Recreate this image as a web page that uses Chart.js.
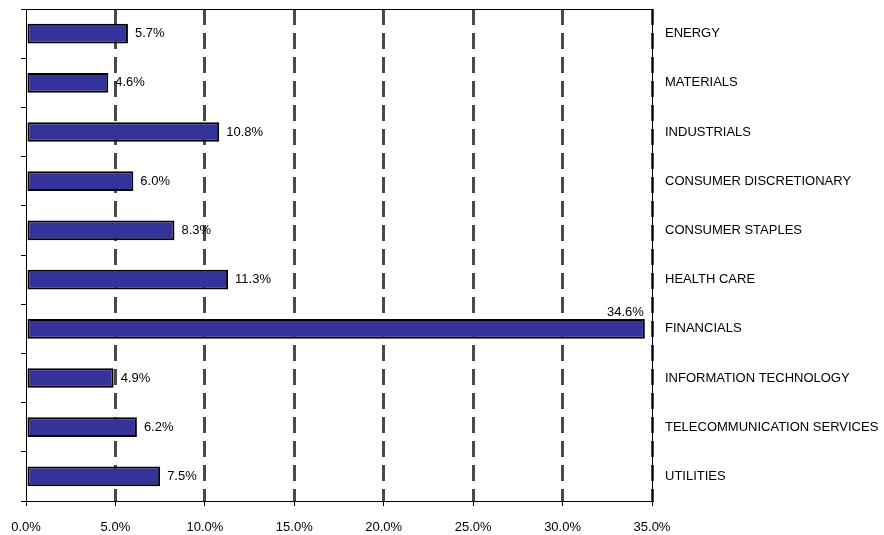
<!DOCTYPE html>
<html>
<head>
<meta charset="utf-8">
<script src="https://cdn.jsdelivr.net/npm/chart.js@4/dist/chart.umd.min.js"></script>
<style>
  body { margin: 0; background: #fff; }
  #wrap { width: 884px; height: 535px; }
</style>
</head>
<body>
<div id="wrap"><canvas id="sectorChart" width="884" height="535"></canvas></div>
<script>
// sector weights, top to bottom as in the picture
const sectors = ['ENERGY', 'MATERIALS', 'INDUSTRIALS', 'CONSUMER DISCRETIONARY', 'CONSUMER STAPLES',
  'HEALTH CARE', 'FINANCIALS', 'INFORMATION TECHNOLOGY', 'TELECOMMUNICATION SERVICES', 'UTILITIES'];
const weights = [5.7, 4.6, 10.8, 6.0, 8.3, 11.3, 34.6, 4.9, 6.2, 7.5];
const axisMin = 0;
const axisMax = 35;
const axisStep = 5;

const FONT = 'Liberation Sans, Arial, sans-serif';

// no extra padding from label overhang
function noPad(scale) {
  scale.paddingTop = 0;
  scale.paddingBottom = 0;
  scale.paddingLeft = 0;
  scale.paddingRight = 0;
}

// value labels at the end of each bar (placed above when there is no room)
const valueLabels = {
  id: 'valueLabels',
  afterDatasetsDraw(chart) {
    const ctx = chart.ctx;
    const area = chart.chartArea;
    const meta = chart.getDatasetMeta(0);
    ctx.save();
    ctx.font = '13px ' + FONT;
    ctx.fillStyle = '#000';
    meta.data.forEach((bar, i) => {
      const text = weights[i].toFixed(1) + '%';
      const w = ctx.measureText(text).width;
      if (bar.x + 8 + w > area.right) {
        ctx.textAlign = 'right';
        ctx.textBaseline = 'middle';
        ctx.fillText(text, bar.x - 1, bar.y - bar.height / 2 - 7);
      } else {
        ctx.textAlign = 'left';
        ctx.textBaseline = 'middle';
        ctx.fillText(text, bar.x + 7, bar.y);
      }
    });
    ctx.restore();
  }
};

// top edge of the plot area
const topBorder = {
  id: 'topBorder',
  afterDraw(chart) {
    const ctx = chart.ctx;
    const a = chart.chartArea;
    ctx.save();
    ctx.strokeStyle = '#000';
    ctx.lineWidth = 1;
    ctx.beginPath();
    ctx.moveTo(a.left, a.top + 0.5);
    ctx.lineTo(a.right, a.top + 0.5);
    ctx.stroke();
    ctx.restore();
  }
};

new Chart(document.getElementById('sectorChart').getContext('2d'), {
  type: 'bar',
  data: {
    labels: sectors,
    datasets: [{
      data: weights,
      backgroundColor: '#333399',
      borderColor: '#000',
      borderWidth: 2,
      borderSkipped: false,
      barPercentage: 0.4,
      categoryPercentage: 1
    }]
  },
  options: {
    indexAxis: 'y',
    responsive: false,
    animation: false,
    layout: { autoPadding: false, padding: { top: 9, left: 0, right: 0, bottom: 0 } },
    plugins: {
      legend: { display: false },
      tooltip: { enabled: false }
    },
    scales: {
      x: {
        min: axisMin,
        max: axisMax,
        afterFit: (scale) => { noPad(scale); scale.height = 34; },
        ticks: {
          stepSize: axisStep,
          padding: 14,
          color: '#000',
          font: { family: FONT, size: 13 },
          callback: (v) => Number(v).toFixed(1) + '%'
        },
        grid: {
          color: (c) => (c.tick && c.tick.value === 0 ? 'rgba(0,0,0,0)' : '#4a4a4a'),
          lineWidth: 3,
          tickLength: 5,
          tickColor: '#000',
          tickWidth: 1,
          tickBorderDash: []
        },
        border: { display: true, color: '#000', width: 1, dash: [16, 8] }
      },
      y: {
        position: 'right',
        afterFit: (scale) => { noPad(scale); scale.width = 232; },
        ticks: {
          padding: 13,
          color: '#000',
          font: { family: FONT, size: 13 }
        },
        grid: { display: false, drawTicks: false },
        border: { display: true, color: '#000', width: 1 }
      },
      y2: {
        type: 'category',
        position: 'left',
        offset: true,
        afterFit: (scale) => { noPad(scale); scale.width = 26; },
        ticks: { display: false },
        grid: {
          offset: true,
          drawOnChartArea: false,
          tickLength: 5,
          color: '#000',
          lineWidth: 1
        },
        border: { display: true, color: '#000', width: 1 }
      }
    }
  },
  plugins: [valueLabels, topBorder]
});
</script>
</body>
</html>
